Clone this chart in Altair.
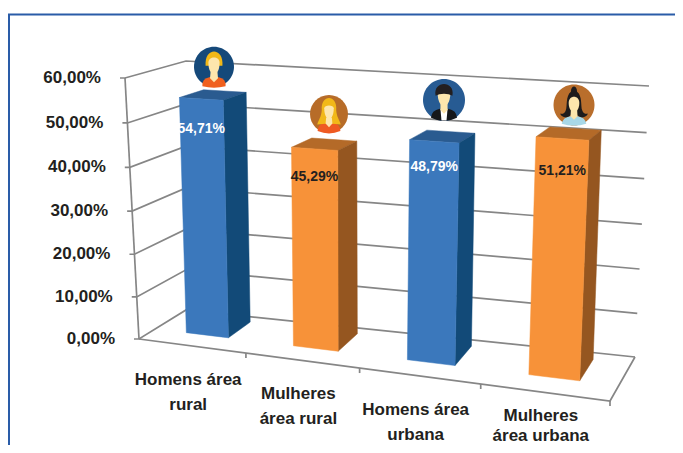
import altair as alt
import pandas as pd

# ---- data ----
categories = [["Homens área", "rural"], ["Mulheres", "área rural"],
              ["Homens área", "urbana"], ["Mulheres", "área urbana"]]
values = [54.71, 45.29, 48.79, 51.21]
y_ticks = [0, 10, 20, 30, 40, 50, 60]

# ---- styles ----
BLUE = ("#3b78bc", "#124a78", "#2a5b90")
ORANGE = ("#f79239", "#955620", "#b46a28")
bar_styles = [BLUE, ORANGE, BLUE, ORANGE]
label_colors = ["#ffffff", "#231f20", "#ffffff", "#231f20"]
label_drop = [30, 28, 26, 33]
cat_drop = [34, 34, 34, 24]
cat_gap = [25, 25, 25, 20]
GRID = "#868686"
INK = "#231f20"
FONT = "Liberation Sans"

# ---- 3D projection (box corners of the perspective frame, page pixels) ----
FL, FR, BL, BR = (139, 339), (610, 401), (186, 310), (635, 357)
TFL, TFR, TBL, TBR = (125, 78), (622, 107), (186, 61), (649, 86)


def bil(a, b, c, d, u, v):
    return tuple((1 - v) * ((1 - u) * a[k] + u * b[k]) + v * ((1 - u) * c[k] + u * d[k]) for k in (0, 1))


def proj(s, v, w):
    u = s / (1 + 0.135 * (1 - s))
    t = w / 60
    t = t / (1 + 0.04 * (1 - t))
    lo = bil(FL, FR, BL, BR, u, v)
    hi = bil(TFL, TFR, TBL, TBR, u, v)
    return lo[0] + t * (hi[0] - lo[0]), lo[1] + t * (hi[1] - lo[1])


def envelope(poly, name, col):
    xs = sorted(set(round(p[0], 3) for p in poly))
    rows = []
    n = len(poly)
    for x in xs:
        ys = []
        for i in range(n):
            a, b = poly[i], poly[(i + 1) % n]
            x0, x1 = min(a[0], b[0]), max(a[0], b[0])
            if x0 - 1e-3 <= x <= x1 + 1e-3:
                if abs(b[0] - a[0]) < 1e-3:
                    ys += [a[1], b[1]]
                else:
                    ys.append(a[1] + (x - a[0]) / (b[0] - a[0]) * (b[1] - a[1]))
        rows.append(dict(x=x, y=min(ys), y2=max(ys), face=name, col=col))
    return rows


# ---- grid ----
lines = []


def seg(name, pts, col=GRID):
    for k, p in enumerate(pts):
        lines.append(dict(x=p[0], y=p[1], seg=name, col=col, ord=k))


for w in y_ticks:
    f = proj(0, 0, w)
    seg(f"l{w}", [(f[0] - 5, f[1]), f, proj(0, 1, w), proj(1, 1, w)])
seg("left", [proj(0, 0, 0), proj(0, 0, 60)])
seg("front", [proj(0, 0, 0), proj(1, 0, 0), proj(1, 1, 0)])
for s in (0.25, 0.5, 0.75, 1):
    p = proj(s, 0, 0)
    seg(f"t{s}", [p, (p[0], p[1] + 5)])

# ---- bars ----
faces = []
texts = []
V_FRONT, V_BACK, V_BACK_TOP = .35, .85, .77
for i, val in enumerate(values):
    c = 0.125 + 0.25 * i
    a, b = c - 0.05, c + 0.05
    front, side, top = bar_styles[i]
    faces += envelope([proj(a, V_FRONT, val), proj(a, V_BACK_TOP, val), proj(b, V_BACK_TOP, val), proj(b, V_FRONT, val)], f"top{i}", top)
    faces += envelope([proj(b, V_FRONT, val), proj(b, V_BACK_TOP, val), proj(b, V_BACK, 0), proj(b, V_FRONT, 0)], f"side{i}", side)
    faces += envelope([proj(a, V_FRONT, val), proj(b, V_FRONT, val), proj(b, V_FRONT, 0), proj(a, V_FRONT, 0)], f"front{i}", front)
    p = proj(c, V_FRONT, val)
    texts.append(dict(x=p[0], y=p[1] + label_drop[i], t=f"{val:.2f}".replace(".", ",") + "%", col=label_colors[i], fs=14, al="center"))
    p = proj(c, 0, 0)
    for j, line in enumerate(categories[i]):
        texts.append(dict(x=p[0] - 3.5, y=p[1] + cat_drop[i] + cat_gap[i] * j, t=line, col=INK, fs=17, al="center"))
for w in y_ticks:
    p = proj(0, 0, w)
    texts.append(dict(x=p[0] - 24, y=p[1], t=f"{w:.2f}".replace(".", ",") + "%", col=INK, fs=17, al="right"))

# ---- avatars (unit-circle paths) ----
CIRCLE = "M0,-1A1,1 0 1,1 0,1A1,1 0 1,1 0,-1Z"
FACE = "M-.28,-.2C-.28,-.55 .28,-.55 .28,-.2C.28,.2 .12,.38 0,.38C-.12,.38 -.28,.2 -.28,-.2Z"
NECK = "M-.17,.25L.17,.25L.2,.58L0,.78L-.2,.58Z"
SKIN = "#fde6ad"
avatars = [
    (214, 66.7, 20, [
        (CIRCLE, "#15497a"),
        ("M-.58,.98Q-.62,.6 -.2,.52L.2,.52Q.62,.6 .58,.98Q0,1.12 -.58,.98Z", "#f0601e"),
        ("M-.42,-.05C-.5,-1 .5,-1 .42,-.05Z", "#f2b818"),
        (NECK, SKIN), (FACE, SKIN)]),
    (329, 114, 19, [
        (CIRCLE, "#b76c28"),
        ("M-.6,.9Q-.6,.55 -.2,.45L.2,.45Q.6,.55 .6,.9Q0,1.15 -.6,.9Z", "#ef5a22"),
        ("M-.38,-.2C-.45,-1.05 .45,-1.05 .38,-.2C.4,.15 .55,.3 .62,.55C.3,.5 -.3,.5 -.62,.55C-.55,.3 -.4,.15 -.38,-.2Z", "#f2b818"),
        ("M-.15,.2L.15,.2L.18,.5L0,.7L-.18,.5Z", SKIN),
        ("M-.25,-.3C-.25,-.5 .25,-.5 .25,-.3C.25,.1 .1,.28 0,.28C-.1,.28 -.25,.1 -.25,-.3Z", SKIN)]),
    (444, 100, 21, [
        (CIRCLE, "#275b93"),
        ("M-.62,.85Q-.6,.5 -.2,.42L.2,.42Q.6,.5 .62,.85Q0,1.15 -.62,.85Z", "#15171a"),
        ("M-.17,.42L.17,.42L.12,.98L-.12,.98Z", "#ffffff"),
        ("M-.17,.15L.17,.15L.17,.48L0,.66L-.17,.48Z", SKIN),
        ("M-.3,-.3C-.3,-.45 .3,-.45 .3,-.3C.3,.1 .12,.3 0,.3C-.12,.3 -.3,.1 -.3,-.3Z", SKIN),
        ("M-.4,-.2C-.55,-.95 .55,-.95 .4,-.2C.2,-.33 -.2,-.33 -.4,-.2Z", "#231f20")]),
    (574, 105, 20.5, [
        (CIRCLE, "#b96e2c"),
        ("M-.6,.92Q-.55,.62 -.2,.55L.2,.55Q.55,.62 .6,.92Q0,1.1 -.6,.92Z", "#a8d8e8"),
        ("M-.15,-.65C-.14,-.98 .14,-.98 .15,-.65C.42,-.45 .32,.1 .4,.25C.45,.4 .55,.45 .68,.42C.6,.65 .3,.65 .18,.5L-.18,.5C-.3,.65 -.6,.65 -.68,.42C-.55,.45 -.45,.4 -.4,.25C-.32,.1 -.42,-.45 -.15,-.65Z", "#1d1b1c"),
        ("M-.15,.2L.15,.2L.17,.55L0,.72L-.17,.55Z", SKIN),
        ("M-.26,-.1C-.26,-.5 .26,-.5 .26,-.1C.26,.2 .1,.36 0,.36C-.1,.36 -.26,.2 -.26,-.1Z", SKIN)]),
]
symbols = []
for ax, ay, r, parts in avatars:
    for path, col in parts:
        symbols.append(dict(x=ax, y=ay, path=path, col=col, size=4 * r * r))

# ---- chart ----
SX = alt.Scale(domain=[8, 675], nice=False, zero=False)
SY = alt.Scale(domain=[445, 8], nice=False, zero=False)
X = alt.X("x:Q", scale=SX, axis=None)
Y = alt.Y("y:Q", scale=SY, axis=None)
COL = alt.Color("col:N", scale=None)

frame_pts = pd.DataFrame(dict(x=[683, 9, 9], y=[14.5, 14.5, 453], ord=[0, 1, 2]))
frame = alt.Chart(frame_pts).mark_line(color="#2a5ca8", strokeWidth=2).encode(x=X, y=Y, order="ord:Q")
grid = alt.Chart(pd.DataFrame(lines)).mark_line(strokeWidth=1.7, color=GRID).encode(
    x=X, y=Y, detail="seg:N", order="ord:Q")
area = alt.Chart(pd.DataFrame(faces)).mark_area(strokeWidth=0.5).encode(
    x=X, y=Y, y2="y2:Q", fill=alt.Fill("col:N", scale=None), stroke=alt.Stroke("col:N", scale=None), detail="face:N")
icons = alt.Chart(pd.DataFrame(symbols)).mark_point(filled=True, opacity=1, strokeWidth=0).encode(
    x=X, y=Y, shape=alt.Shape("path:N", scale=None), fill=alt.Fill("col:N", scale=None),
    size=alt.Size("size:Q", scale=None))
df_t = pd.DataFrame(texts)
label_layers = []
for al in ("center", "right"):
    for fs in sorted(df_t.fs.unique()):
        sub = df_t[(df_t.al == al) & (df_t.fs == fs)]
        if len(sub):
            label_layers.append(
                alt.Chart(sub.drop(columns=["al"])).mark_text(
                    font=FONT, fontWeight="bold", fontSize=int(fs), align=al, baseline="middle"
                ).encode(x=X, y=Y, text="t:N", color=COL))

chart = alt.layer(frame, grid, area, icons, *label_layers).properties(
    width=667, height=437, padding=0, autosize=alt.AutoSizeParams(type="none"), background="#ffffff"
).configure_view(stroke=None)
chart.save("out.html", embed_options={"renderer": "svg", "actions": False})
